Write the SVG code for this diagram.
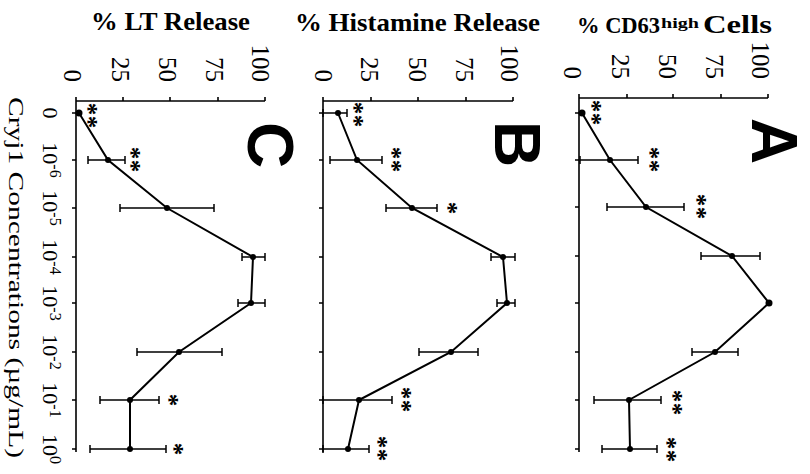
<svg xmlns="http://www.w3.org/2000/svg" width="810" height="474" viewBox="0 0 810 474">
<style>
.ax{fill:none;stroke:#000;stroke-width:1.6}
.ln{fill:none;stroke:#000;stroke-width:2}
.eb{fill:none;stroke:#000;stroke-width:1.5}
.pt{fill:#000}
.ttl{font-family:"Liberation Serif","Times New Roman",serif;font-size:25px;font-weight:bold;fill:#000}
.vl{font-family:"Liberation Serif","Times New Roman",serif;font-size:25px;fill:#000;text-anchor:end}
.cl{font-family:"Liberation Serif","Times New Roman",serif;font-size:22px;fill:#000;text-anchor:middle}
.sup{font-size:16px}
.xt{font-family:"Liberation Serif","Times New Roman",serif;font-size:22px;fill:#000}
.big{font-family:"Liberation Sans",Arial,sans-serif;font-size:64px;font-weight:bold;fill:#000}
.st{font-family:"Liberation Serif","Times New Roman",serif;font-size:25px;font-weight:bold;fill:#000;text-anchor:middle}
</style>
<rect width="810" height="474" fill="#fff"/>

<g id="category-labels">
<text class="cl" transform="translate(43,113) rotate(90)">0</text>
<text class="cl" transform="translate(43,160) rotate(90)">10<tspan class="sup" dy="-7">-6</tspan></text>
<text class="cl" transform="translate(43,208) rotate(90)">10<tspan class="sup" dy="-7">-5</tspan></text>
<text class="cl" transform="translate(43,257) rotate(90)">10<tspan class="sup" dy="-7">-4</tspan></text>
<text class="cl" transform="translate(43,303) rotate(90)">10<tspan class="sup" dy="-7">-3</tspan></text>
<text class="cl" transform="translate(43,352) rotate(90)">10<tspan class="sup" dy="-7">-2</tspan></text>
<text class="cl" transform="translate(43,400) rotate(90)">10<tspan class="sup" dy="-7">-1</tspan></text>
<text class="cl" transform="translate(43,449) rotate(90)">10<tspan class="sup" dy="-7">0</tspan></text>
<text class="xt" transform="translate(9,97) rotate(90)" textLength="361" lengthAdjust="spacingAndGlyphs">Cryj1 Concentrations  (µg/mL)</text>
</g>

<g id="panel-C">
<text class="ttl" x="91" y="30" textLength="159" lengthAdjust="spacingAndGlyphs">% LT Release</text>
<text class="vl" transform="translate(64,82) rotate(90)">0</text>
<text class="vl" transform="translate(111.5,82) rotate(90)">25</text>
<text class="vl" transform="translate(158.5,82) rotate(90)">50</text>
<text class="vl" transform="translate(205.5,82) rotate(90)">75</text>
<text class="vl" transform="translate(251.5,82) rotate(90)">100</text>
<path class="ax" d="M76,101H265M76,97V101M123,97V101M170,97V101M218,97V101M265,97V101M76,101V452M72,113H76M72,160H76M72,208H76M72,257H76M72,303H76M72,352H76M72,400H76M72,449H76"/>
<path class="eb" d="M88,160H125M88,156V164M125,156V164M120,208H214M120,204V212M214,204V212M242,257H265M242,253V261M265,253V261M238,303H265M238,299V307M265,299V307M137,352H222M137,348V356M222,348V356M100,400H159M100,396V404M159,396V404M90,449H166M90,445V453M166,445V453"/>
<polyline class="ln" points="79,113 108,160 167,208 253,257 251,303 179,352 130,400 130,449"/>
<g class="pt"><circle cx="79" cy="113" r="3.5"/><circle cx="108" cy="160" r="3"/><circle cx="167" cy="208" r="3"/><circle cx="253" cy="257" r="3"/><circle cx="251" cy="303" r="3"/><circle cx="179" cy="352" r="3"/><circle cx="130" cy="400" r="3"/><circle cx="130" cy="449" r="3"/></g>
<text class="big" transform="translate(248,122) rotate(90)">C</text>
<text class="st" transform="translate(80,109) rotate(90)">*</text>
<text class="st" transform="translate(80,122) rotate(90)">*</text>
<text class="st" transform="translate(123,153) rotate(90)">*</text>
<text class="st" transform="translate(123,166) rotate(90)">*</text>
<text class="st" transform="translate(161,400) rotate(90)">*</text>
<text class="st" transform="translate(166,449) rotate(90)">*</text>
</g>

<g id="panel-B">
<text class="ttl" x="295" y="31" textLength="245" lengthAdjust="spacingAndGlyphs">% Histamine Release</text>
<text class="vl" transform="translate(315,82) rotate(90)">0</text>
<text class="vl" transform="translate(361,82) rotate(90)">25</text>
<text class="vl" transform="translate(408.5,82) rotate(90)">50</text>
<text class="vl" transform="translate(455.5,82) rotate(90)">75</text>
<text class="vl" transform="translate(501,82) rotate(90)">100</text>
<path class="ax" d="M323,101H513M323,97V101M371,97V101M418,97V101M466,97V101M513,97V101M323,101V452M319,113H323M319,160H323M319,208H323M319,257H323M319,303H323M319,352H323M319,400H323M319,449H323"/>
<path class="eb" d="M323,113H347M323,109V117M347,109V117M330,160H382M330,156V164M382,156V164M386,208H437M386,204V212M437,204V212M491,257H515M491,253V261M515,253V261M497,303H515M497,299V307M515,299V307M419,352H478M419,348V356M478,348V356M323,400H392M323,396V404M392,396V404M323,449H369M323,445V453M369,445V453"/>
<polyline class="ln" points="338,113 357,160 412,208 503,257 507,303 451,352 359,400 348,449"/>
<g class="pt"><circle cx="338" cy="113" r="3"/><circle cx="357" cy="160" r="3"/><circle cx="412" cy="208" r="3"/><circle cx="503" cy="257" r="3"/><circle cx="507" cy="303" r="3"/><circle cx="451" cy="352" r="3"/><circle cx="359" cy="400" r="3"/><circle cx="348" cy="449" r="3"/></g>
<text class="big" transform="translate(495,121) rotate(90)">B</text>
<text class="st" transform="translate(346,108) rotate(90)">*</text>
<text class="st" transform="translate(346,121) rotate(90)">*</text>
<text class="st" transform="translate(384,153) rotate(90)">*</text>
<text class="st" transform="translate(384,166) rotate(90)">*</text>
<text class="st" transform="translate(440,208) rotate(90)">*</text>
<text class="st" transform="translate(394,393) rotate(90)">*</text>
<text class="st" transform="translate(394,406) rotate(90)">*</text>
<text class="st" transform="translate(370,442) rotate(90)">*</text>
<text class="st" transform="translate(370,455) rotate(90)">*</text>
</g>

<g id="panel-A">
<text class="ttl" x="577" y="33"><tspan style="font-size:22.5px">% CD63</tspan><tspan x="661" dy="-5" style="font-size:15px" textLength="38" lengthAdjust="spacingAndGlyphs">high</tspan><tspan x="703" dy="5" textLength="69" lengthAdjust="spacingAndGlyphs">Cells</tspan></text>
<text class="vl" transform="translate(564,79) rotate(90)">0</text>
<text class="vl" transform="translate(611.5,79) rotate(90)">25</text>
<text class="vl" transform="translate(658.5,79) rotate(90)">50</text>
<text class="vl" transform="translate(705.5,79) rotate(90)">75</text>
<text class="vl" transform="translate(752,79) rotate(90)">100</text>
<path class="ax" d="M579,98H768M579,94V98M627,94V98M673,94V98M721,94V98M768,94V98M579,98V452M575,113H579M575,160H579M575,207H579M575,256H579M575,303H579M575,352H579M575,400H579M575,449H579"/>
<path class="eb" d="M580,160H638M580,156V164M638,156V164M607,207H684M607,203V211M684,203V211M701,256H760M701,252V260M760,252V260M692,352H738M692,348V356M738,348V356M594,400H661M594,396V404M661,396V404M602,449H657M602,445V453M657,445V453"/>
<polyline class="ln" points="582,113 610,160 646,207 732,256 769,303 715,352 629,400 630,449"/>
<g class="pt"><circle cx="582" cy="113" r="3.5"/><circle cx="610" cy="160" r="3"/><circle cx="646" cy="207" r="3"/><circle cx="732" cy="256" r="3"/><circle cx="769" cy="303" r="3.5"/><circle cx="715" cy="352" r="3"/><circle cx="629" cy="400" r="3"/><circle cx="630" cy="449" r="3"/></g>
<text class="big" transform="translate(752,118) rotate(90)">A</text>
<text class="st" transform="translate(584,106) rotate(90)">*</text>
<text class="st" transform="translate(584,119) rotate(90)">*</text>
<text class="st" transform="translate(642,153) rotate(90)">*</text>
<text class="st" transform="translate(642,166) rotate(90)">*</text>
<text class="st" transform="translate(689,200) rotate(90)">*</text>
<text class="st" transform="translate(689,213) rotate(90)">*</text>
<text class="st" transform="translate(665,396) rotate(90)">*</text>
<text class="st" transform="translate(665,409) rotate(90)">*</text>
<text class="st" transform="translate(659,443) rotate(90)">*</text>
<text class="st" transform="translate(659,456) rotate(90)">*</text>
</g>
</svg>
